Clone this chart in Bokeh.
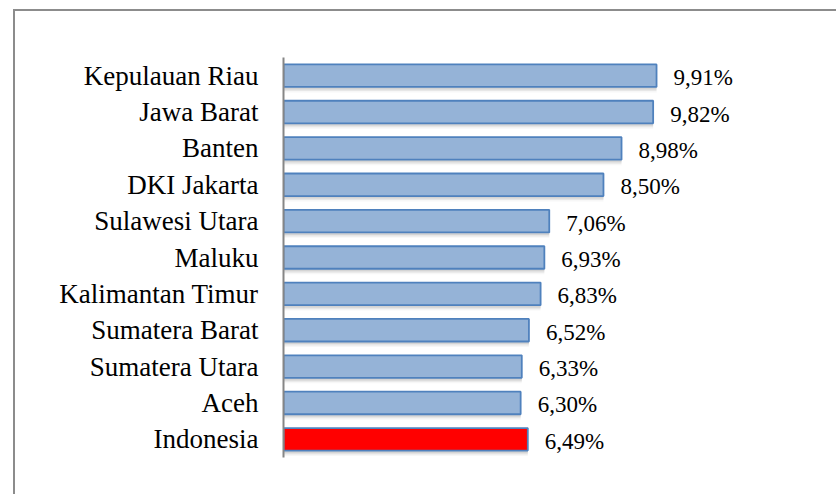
from bokeh.plotting import figure
from bokeh.models import ColumnDataSource, FactorRange, Range1d
from bokeh.transform import dodge
from bokeh.core.properties import value
from bokeh.embed import file_html
from bokeh.resources import INLINE

# ---- data ----
provinces = ["Kepulauan Riau", "Jawa Barat", "Banten", "DKI Jakarta", "Sulawesi Utara",
             "Maluku", "Kalimantan Timur", "Sumatera Barat", "Sumatera Utara", "Aceh",
             "Indonesia"]
rates = [9.91, 9.82, 8.98, 8.50, 7.06, 6.93, 6.83, 6.52, 6.33, 6.30, 6.49]
highlight = "Indonesia"

labels = [f"{v:.2f}".replace(".", ",") + "%" for v in rates]
fills = ["#FF0000" if n == highlight else "#95B3D7" for n in provinces]

src = ColumnDataSource(dict(name=provinces, val=rates, lab=labels, fill=fills))

factors = list(reversed(provinces))

SERIF = "Liberation Serif, DejaVu Serif, serif"

p = figure(
    y_range=FactorRange(factors=factors),
    x_range=Range1d(0, 14),
    frame_width=527, frame_height=400,
    min_border_left=268, min_border_top=46, min_border_bottom=37, min_border_right=26,
    x_axis_location=None,
    output_backend="svg", toolbar_location=None,
)
p.styles = {"margin-left": "13px", "margin-top": "9px",
            "border-left": "2px solid #8c8c8c", "border-top": "2px solid #8c8c8c"}

p.xgrid.visible = False
p.ygrid.visible = False
p.outline_line_color = None
p.background_fill_color = "white"
p.border_fill_color = "white"

# shadows
for off, a in [(-0.07, 0.18), (-0.11, 0.12), (-0.15, 0.06)]:
    p.hbar(y=dodge("name", off, range=p.y_range), right="val", left=0, height=0.62,
           source=src, fill_color="#7f7f7f", fill_alpha=a, line_color=None)

p.hbar(y="name", right="val", left=0, height=0.62, source=src,
       fill_color="fill", line_color="#4F81BD", line_width=1.8)

p.text(x="val", y="name", text="lab", source=src, x_offset=17, y_offset=2,
       text_font=value(SERIF), text_font_size="23px",
       text_color="black", text_baseline="middle", text_align="left")

ax = p.yaxis[0]
ax.axis_line_color = "#868686"
ax.axis_line_width = 2
ax.major_tick_line_color = None
ax.minor_tick_line_color = None
ax.major_tick_out = 0
ax.major_tick_in = 0
ax.major_label_standoff = 25
ax.major_label_text_font = SERIF
ax.major_label_text_font_size = "27px"
ax.major_label_text_color = "black"

open("out.html", "w").write(file_html(p, INLINE))
